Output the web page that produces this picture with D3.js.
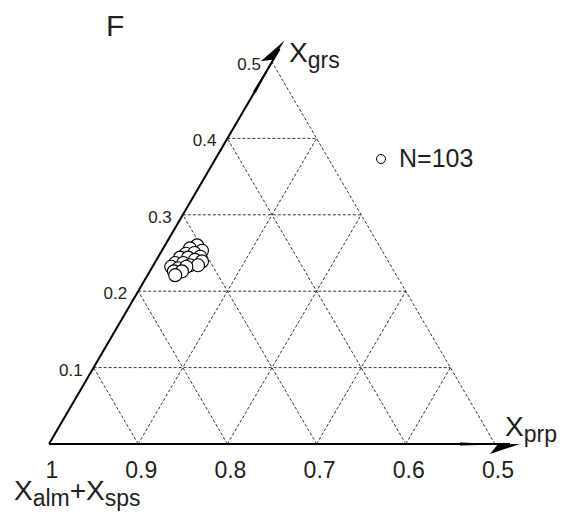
<!DOCTYPE html>
<html>
<head>
<meta charset="utf-8">
<script src="https://cdn.jsdelivr.net/npm/d3@7"></script>
<style>
  body { margin: 0; background: #fff; }
  text { font-family: "Liberation Sans", Arial, sans-serif; fill: #231f20; }
</style>
</head>
<body>
<div id="chart"></div>
<script>
// garnet end-member fractions
const grs = [0.260, 0.256, 0.253, 0.249, 0.250, 0.245, 0.244, 0.244, 0.241, 0.239,
             0.237, 0.237, 0.234, 0.234, 0.232, 0.230, 0.232, 0.226, 0.226, 0.221];
const prp = [0.036, 0.030, 0.045, 0.029, 0.038, 0.047, 0.025, 0.034, 0.043, 0.052,
             0.023, 0.032, 0.041, 0.050, 0.021, 0.030, 0.038, 0.027, 0.036, 0.031];
const bottomTicks = [1, 0.9, 0.8, 0.7, 0.6, 0.5];
const leftTicks = [0.1, 0.2, 0.3, 0.4, 0.5];
const gridSteps = [0.1, 0.2, 0.3, 0.4];

const width = 579, height = 515;

const svg = d3.select("#chart").append("svg")
    .attr("width", width)
    .attr("height", height);

// horizontal position uses prp + grs/2, vertical uses grs
const x = d3.scaleLinear().domain([0, 0.5]).range([49, 495]);
const y = d3.scaleLinear().domain([0, 0.5]).range([444, 62]);
const px = (p, g) => x(p + g / 2);
const py = (p, g) => y(g);

// dashed grid
const grid = [];
gridSteps.forEach(k => {
    grid.push([[0, k], [0.5 - k, k]]);   // constant grs
    grid.push([[k, 0], [k, 0.5 - k]]);   // constant prp
    grid.push([[k, 0], [0, k]]);         // constant alm+sps
});
grid.push([[0.5, 0], [0, 0.5]]);         // right edge

svg.append("g").selectAll("line")
    .data(grid)
    .enter().append("line")
    .attr("x1", d => px(d[0][0], d[0][1]))
    .attr("y1", d => py(d[0][0], d[0][1]))
    .attr("x2", d => px(d[1][0], d[1][1]))
    .attr("y2", d => py(d[1][0], d[1][1]))
    .attr("stroke", "#000")
    .attr("stroke-width", 0.8)
    .attr("stroke-dasharray", "3,2");

// solid axes with half arrow heads
function axisArrow(x1, y1, x2, y2, extra, side) {
    const len = Math.hypot(x2 - x1, y2 - y1);
    const dx = (x2 - x1) / len, dy = (y2 - y1) / len;
    const tx = x2 + dx * extra, ty = y2 + dy * extra;
    svg.append("line")
        .attr("x1", x1).attr("y1", y1)
        .attr("x2", tx - dx * 10).attr("y2", ty - dy * 10)
        .attr("stroke", "#000")
        .attr("stroke-width", 2);
    const nx = -dy * side, ny = dx * side;
    const pts = [
        [tx, ty],
        [tx - dx * 30 + nx * 10, ty - dy * 30 + ny * 10],
        [tx - dx * 22, ty - dy * 22],
        [tx - dx * 60 - nx * 1.5, ty - dy * 60 - ny * 1.5],
        [tx - dx * 60 + nx * 1.5, ty - dy * 60 + ny * 1.5]
    ];
    svg.append("polygon")
        .attr("points", pts.map(p => p.join(",")).join(" "))
        .attr("fill", "#000");
}
axisArrow(px(0, 0), py(0, 0), px(0, 0.5), py(0, 0.5), 25, -1);
axisArrow(px(0, 0), py(0, 0), px(0.5, 0), py(0.5, 0), 25, 1);

// tick labels
svg.append("g").selectAll("text")
    .data(bottomTicks)
    .enter().append("text")
    .attr("x", d => px(1 - d, 0) + 3)
    .attr("y", 478)
    .attr("text-anchor", "middle")
    .attr("font-size", 23)
    .text(d => d);

svg.append("g").selectAll("text")
    .data(leftTicks)
    .enter().append("text")
    .attr("x", d => px(0, d) - 11)
    .attr("y", d => py(0, d) + 8)
    .attr("text-anchor", "end")
    .attr("font-size", 17)
    .text(d => d);

// data points
svg.append("g").selectAll("circle")
    .data(grs.map((g, i) => ({g: g, p: prp[i]})))
    .enter().append("circle")
    .attr("cx", d => px(d.p, d.g))
    .attr("cy", d => py(d.p, d.g))
    .attr("r", 6.5)
    .attr("fill", "#fff")
    .attr("stroke", "#000")
    .attr("stroke-width", 1.1);

// axis titles
function subLabel(xp, yp, parts) {
    const t = svg.append("text").attr("x", xp).attr("y", yp);
    parts.forEach(p => {
        t.append("tspan")
            .attr("font-size", p.sub ? 23 : 28)
            .attr("dy", p.dy)
            .text(p.s);
    });
}
subLabel(289, 62, [{s: "X", dy: 0}, {s: "grs", sub: true, dy: 6}]);
subLabel(505, 436, [{s: "X", dy: 0}, {s: "prp", sub: true, dy: 6}]);
subLabel(14, 500, [{s: "X", dy: 0}, {s: "alm", sub: true, dy: 6},
                   {s: "+", dy: -6}, {s: "X", dy: 0}, {s: "sps", sub: true, dy: 6}]);

svg.append("text")
    .attr("x", 106).attr("y", 36)
    .attr("font-size", 30)
    .text("F");

// legend
svg.append("circle")
    .attr("cx", 381).attr("cy", 159).attr("r", 4.5)
    .attr("fill", "none").attr("stroke", "#000").attr("stroke-width", 1);
svg.append("text")
    .attr("x", 399).attr("y", 167)
    .attr("font-size", 25)
    .text("N=103");
</script>
</body>
</html>
